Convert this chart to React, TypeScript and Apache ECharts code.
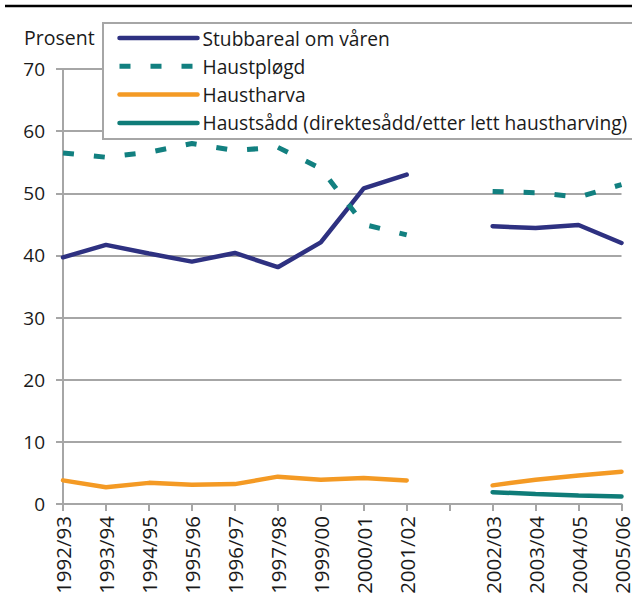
import React, { useEffect, useRef } from "react";
import * as echarts from "echarts";

const categories = ["1992/93", "1993/94", "1994/95", "1995/96", "1996/97", "1997/98", "1999/00", "2000/01", "2001/02", "", "2002/03", "2003/04", "2004/05", "2005/06"];
const stubbareal = [39.7, 41.7, 40.3, 39.0, 40.4, 38.1, 42.1, 50.8, 53.0, null, 44.7, 44.4, 44.9, 42.0];
const haustplogd = [56.5, 55.8, 56.6, 58.0, 56.9, 57.4, 54.0, 45.0, 43.3, null, 50.3, 50.1, 49.4, 51.4];
const haustharva = [3.8, 2.7, 3.4, 3.1, 3.2, 4.4, 3.9, 4.2, 3.8, null, 3.0, 3.9, 4.6, 5.2];
const haustsadd = [null, null, null, null, null, null, null, null, null, null, 1.9, 1.6, 1.35, 1.2];
const seriesNames = ["Stubbareal om våren", "Haustpløgd", "Haustharva", "Haustsådd (direktesådd/etter lett haustharving)"];

const FONT = "Open Sans";
const GRID = "#A6A6A6";
const TEXT = "#1A1A1A";

export default function App() {
  const ref = useRef<HTMLDivElement>(null);
  useEffect(() => {
    if (!ref.current) return;
    const chart = echarts.init(ref.current, undefined, { renderer: "svg" });
    const lineSeries = (name: string, data: (number | null)[], color: string, width: number, type: any = "solid", cap: string = "round") => ({
      name,
      type: "line",
      data,
      symbol: "none",
      showSymbol: false,
      connectNulls: false,
      lineStyle: { color, width, type, cap },
      itemStyle: { color },
    });
    chart.setOption({
      animation: false,
      textStyle: { fontFamily: FONT },
      grid: { left: 63, right: 8, top: 69, bottom: 106 },
      legend: {
        orient: "vertical",
        left: 103,
        top: 23,
        padding: [5, 20, 6, 14],
        itemWidth: 78,
        itemHeight: 20,
        itemGap: 8.3,
        backgroundColor: "#ffffff",
        borderColor: GRID,
        borderWidth: 2,
        borderRadius: 0,
        itemStyle: { opacity: 0 },
        lineStyle: { width: 4.5, cap: "round" },
        data: [
          { name: seriesNames[0] },
          { name: seriesNames[1], lineStyle: { width: 5, cap: "butt" } },
          { name: seriesNames[2] },
          { name: seriesNames[3] },
        ],
        textStyle: { fontFamily: FONT, fontSize: 19.2, lineHeight: 20, color: TEXT },
        z: 10,
      },
      xAxis: {
        type: "category",
        data: categories,
        boundaryGap: false,
        axisLine: { lineStyle: { color: GRID, width: 2 } },
        axisTick: { show: true, interval: 0, length: 7, lineStyle: { color: GRID, width: 2 } },
        axisLabel: { interval: 0, rotate: 90, fontSize: 20.5, color: TEXT, margin: 12, fontFamily: FONT },
        splitLine: { show: false },
      },
      yAxis: {
        type: "value",
        min: 0,
        max: 70,
        interval: 10,
        axisLine: { show: true, lineStyle: { color: GRID, width: 2 } },
        axisTick: { show: true, length: 7, lineStyle: { color: GRID, width: 2 } },
        axisLabel: { fontSize: 19, color: TEXT, margin: 18, fontFamily: FONT },
        splitLine: { show: true, lineStyle: { color: GRID, width: 2 } },
      },
      graphic: [
        { type: "line", shape: { x1: 5, y1: 6, x2: 632, y2: 6 }, style: { stroke: "#000", lineWidth: 2.5 } },
        { type: "text", left: 24, top: 27, style: { text: "Prosent", fontSize: 19.5, fill: TEXT, fontFamily: FONT } },
      ],
      series: [
        lineSeries(seriesNames[0], stubbareal, "#2E3181", 4.5),
        lineSeries(seriesNames[1], haustplogd, "#128080", 5, [11, 20], "butt"),
        lineSeries(seriesNames[2], haustharva, "#F49A24", 4.5),
        lineSeries(seriesNames[3], haustsadd, "#0F7C78", 4.5),
      ],
    });
    return () => chart.dispose();
  }, []);
  return <div ref={ref} style={{ position: "fixed", left: 0, top: 0, width: 632, height: 610, background: "#fff" }} />;
}
